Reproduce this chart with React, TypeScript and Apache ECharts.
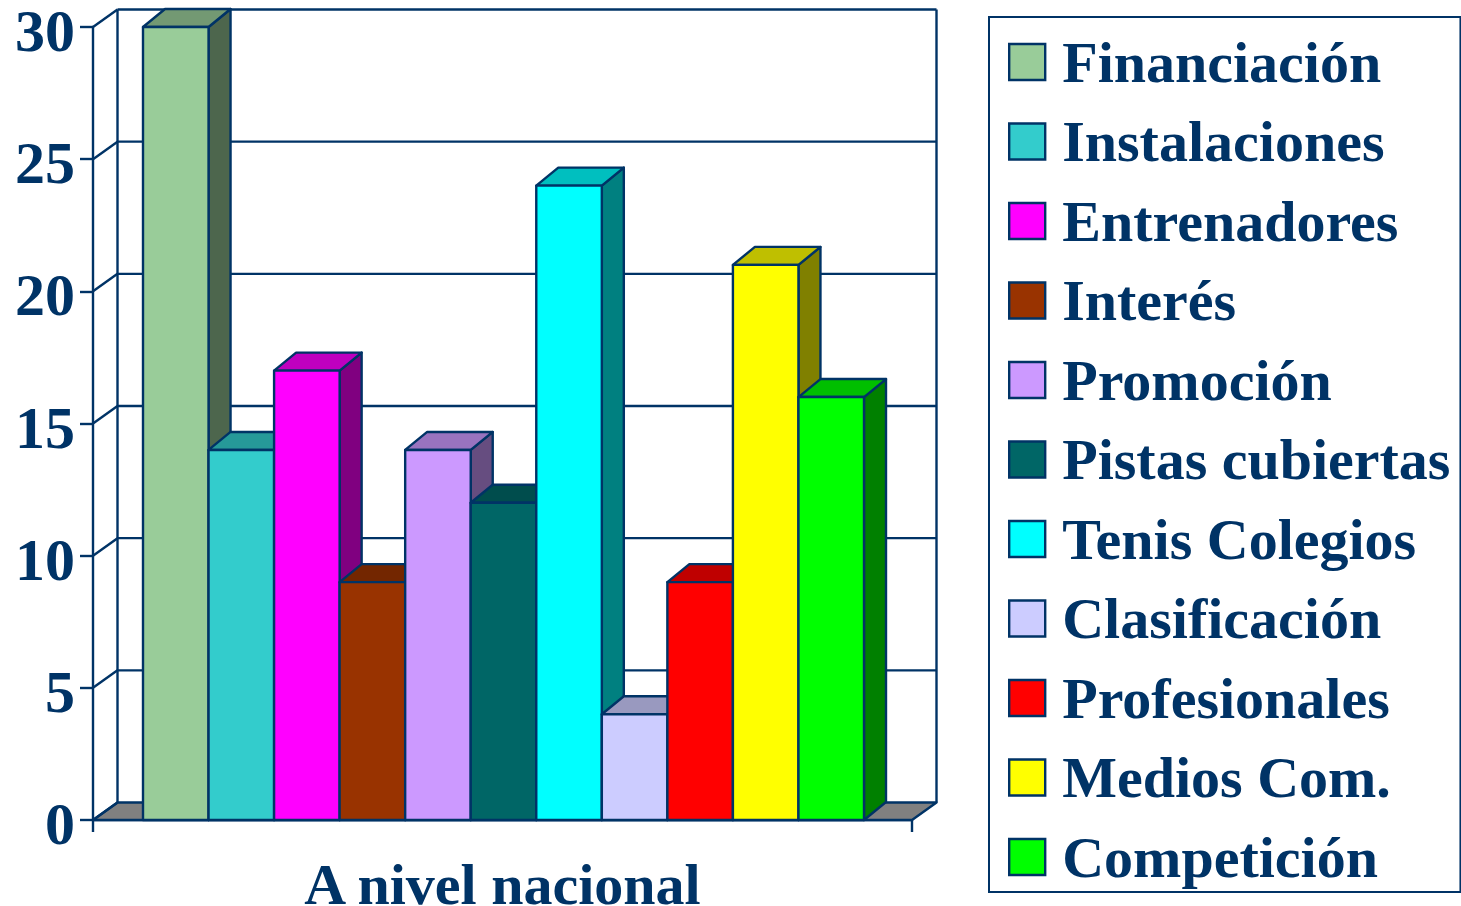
import React, { useEffect, useRef } from "react";
import * as echarts from "echarts";

const categoryLabel = "A nivel nacional";
const names = ["Financiación", "Instalaciones", "Entrenadores", "Interés", "Promoción", "Pistas cubiertas", "Tenis Colegios", "Clasificación", "Profesionales", "Medios Com.", "Competición"];
const values = [30, 14, 17, 9, 14, 12, 24, 4, 9, 21, 16];
const colors = ["#99CC99", "#33CCCC", "#FF00FF", "#993300", "#CC99FF", "#006666", "#00FFFF", "#CCCCFF", "#FF0000", "#FFFF00", "#00FF00"];
const yTicks = [0, 5, 10, 15, 20, 25, 30];

const NAVY = "#003366";
const FONT = '"Liberation Serif", serif';
const WALL_DX = 24.5;
const WALL_DY = -17.5;
const BAR_DX = 22;
const BAR_DY = -18;
const GROUP_RATIO = 721 / 819;
const GROUP_SHIFT = 1;
const LINE_W = 2.4;

function shade(hex: string, k: number) {
  const n = parseInt(hex.slice(1), 16);
  const c = [(n >> 16) & 255, (n >> 8) & 255, n & 255].map((v) => Math.round(v * k));
  return `rgb(${c[0]},${c[1]},${c[2]})`;
}

const lineStyle = { stroke: NAVY, lineWidth: LINE_W, fill: "none" };

function poly(points: number[][], fill: string) {
  return { type: "polygon", shape: { points }, style: { fill, stroke: NAVY, lineWidth: LINE_W, lineJoin: "round" } };
}

function line(a: number[], b: number[]) {
  return { type: "line", shape: { x1: a[0], y1: a[1], x2: b[0], y2: b[1] }, style: lineStyle };
}

function wallsItem(params: any, api: any) {
  const t = api.value(1);
  const p = api.coord([0, t]);
  const band = api.size([1, 0])[0];
  const left = p[0] - band / 2;
  const right = p[0] + band / 2;
  const y = p[1];
  const children: any[] = [];
  if (t === yTicks[0]) {
    const top = api.coord([0, yTicks[yTicks.length - 1]])[1];
    children.push(poly([[left, y], [left + WALL_DX, y + WALL_DY], [right + WALL_DX, y + WALL_DY], [right, y]], "#808080"));
    children.push(line([left + WALL_DX, y + WALL_DY], [left + WALL_DX, top + WALL_DY]));
    children.push(line([right + WALL_DX, y + WALL_DY], [right + WALL_DX, top + WALL_DY]));
  } else {
    children.push(line([left + WALL_DX, y + WALL_DY], [right + WALL_DX, y + WALL_DY]));
  }
  children.push(line([left, y], [left + WALL_DX, y + WALL_DY]));
  return { type: "group", children };
}

function barItem(index: number) {
  return (params: any, api: any) => {
    const top = api.coord([api.value(0), api.value(1)]);
    const base = api.coord([api.value(0), 0]);
    const band = api.size([1, 0])[0];
    const w = (band * GROUP_RATIO) / names.length;
    const x0 = top[0] + GROUP_SHIFT + (index - names.length / 2) * w;
    const x1 = x0 + w;
    const color = colors[index];
    return {
      type: "group",
      children: [
        poly([[x1, top[1]], [x1 + BAR_DX, top[1] + BAR_DY], [x1 + BAR_DX, base[1] + BAR_DY], [x1, base[1]]], shade(color, 0.5)),
        poly([[x0, top[1]], [x0 + BAR_DX, top[1] + BAR_DY], [x1 + BAR_DX, top[1] + BAR_DY], [x1, top[1]]], shade(color, 0.75)),
        poly([[x0, top[1]], [x1, top[1]], [x1, base[1]], [x0, base[1]]], color),
      ],
    };
  };
}

export default function App() {
  const ref = useRef<HTMLDivElement>(null);
  useEffect(() => {
    if (!ref.current) return;
    const chart = echarts.init(ref.current, undefined, { renderer: "svg" });
    chart.setOption({
      animation: false,
      backgroundColor: "#ffffff",
      grid: { left: 93, top: 27, width: 819, height: 793, containLabel: false, outerBoundsMode: "none" },
      xAxis: {
        type: "category",
        data: [categoryLabel],
        axisLine: { show: true, lineStyle: { color: NAVY, width: LINE_W } },
        axisTick: { show: true, length: 12, alignWithLabel: false, lineStyle: { color: NAVY, width: LINE_W } },
        axisLabel: { color: NAVY, fontFamily: FONT, fontWeight: "bold", fontSize: 58, lineHeight: 40, margin: 44 },
        splitLine: { show: false },
      },
      yAxis: {
        type: "value",
        min: 0,
        max: 30,
        interval: 5,
        axisLine: { show: true, lineStyle: { color: NAVY, width: LINE_W } },
        axisTick: { show: true, length: 13, lineStyle: { color: NAVY, width: LINE_W } },
        axisLabel: { color: NAVY, fontFamily: FONT, fontWeight: "bold", fontSize: 60, verticalAlign: "top", lineHeight: 8, margin: 18 },
        splitLine: { show: false },
      },
      legend: {
        show: true,
        orient: "vertical",
        left: 989,
        top: 17,
        padding: [15, 10, 5, 19],
        itemGap: 19.5,
        itemWidth: 36,
        itemHeight: 36,
        borderColor: NAVY,
        borderWidth: 2,
        selectedMode: false,
        icon: "rect",
        itemStyle: { borderColor: NAVY, borderWidth: LINE_W },
        textStyle: { color: NAVY, fontFamily: FONT, fontWeight: "bold", fontSize: 58, lineHeight: 60, padding: [0, 0, 0, 12] },
        data: names,
      },
      series: [
        {
          type: "custom",
          name: "walls",
          silent: true,
          clip: false,
          data: yTicks.map((t) => [categoryLabel, t]),
          renderItem: wallsItem,
        },
        ...names.map((name, i) => ({
          type: "custom",
          name,
          silent: true,
          clip: false,
          itemStyle: { color: colors[i] },
          data: [[categoryLabel, values[i]]],
          renderItem: barItem(i),
        })),
      ],
    });
    return () => chart.dispose();
  }, []);
  return <div ref={ref} style={{ position: "absolute", left: 0, top: 0, width: 1461, height: 906 }} />;
}
